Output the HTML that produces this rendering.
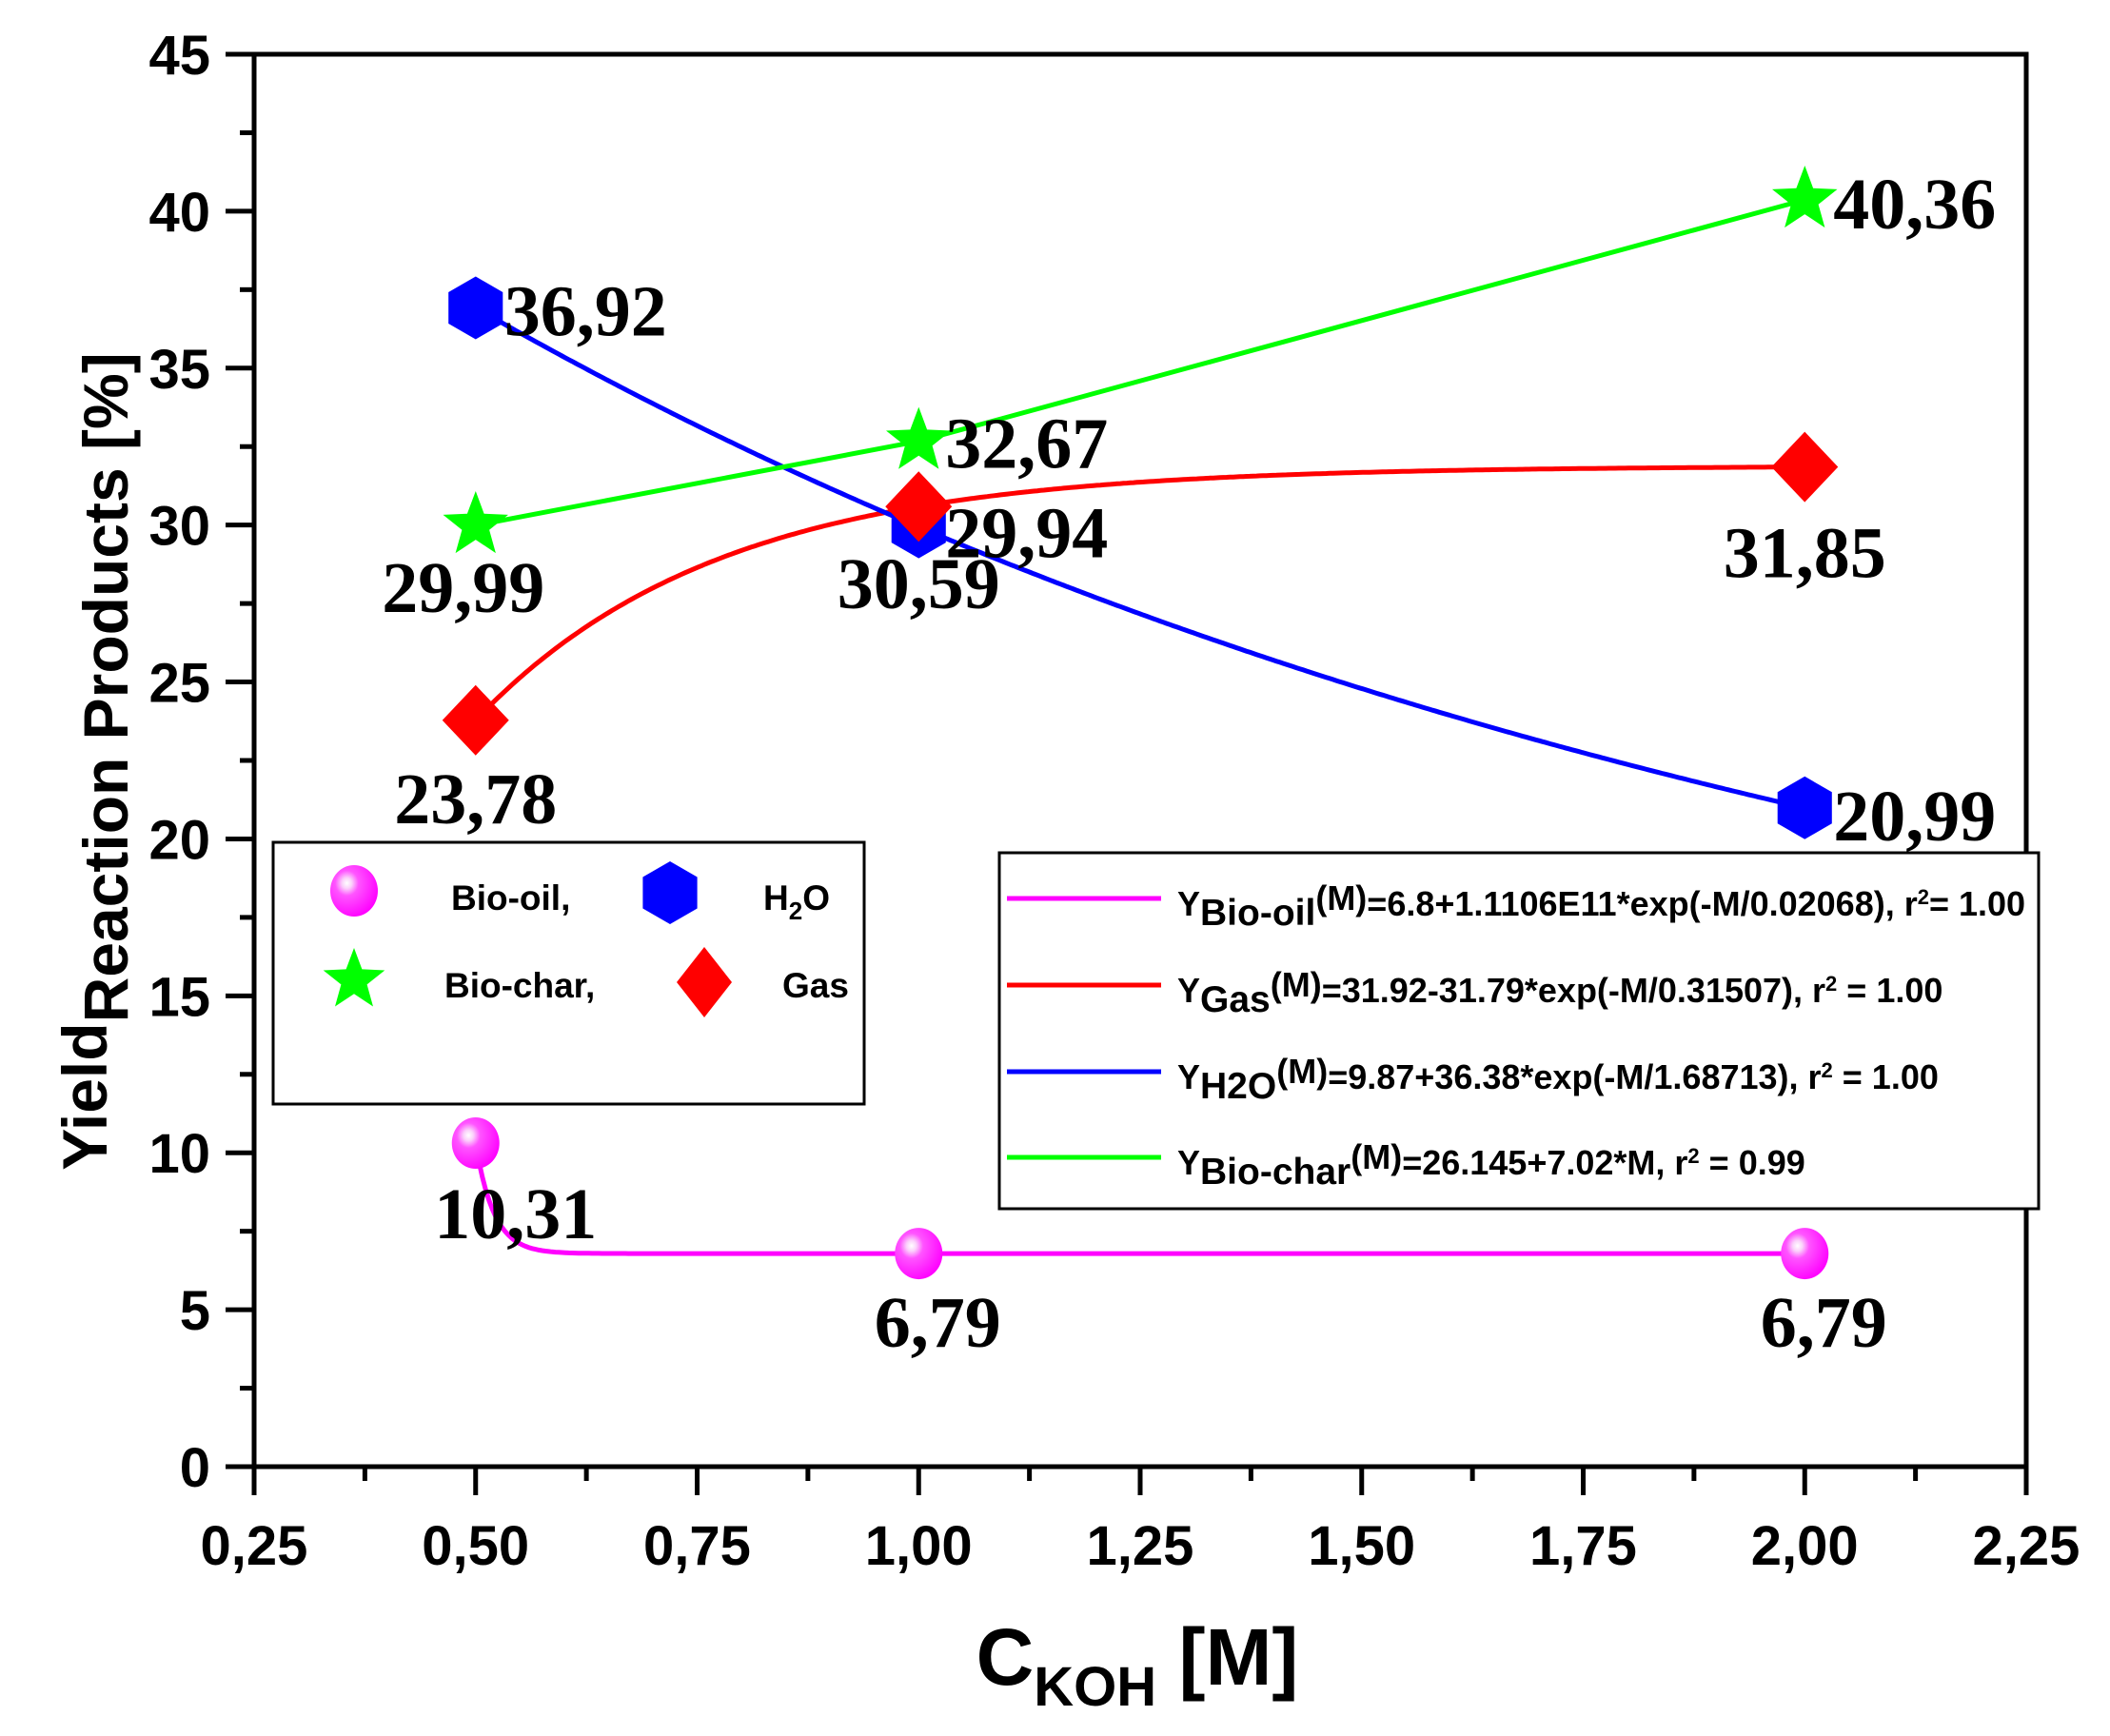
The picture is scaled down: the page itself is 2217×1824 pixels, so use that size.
<!DOCTYPE html>
<html><head><meta charset="utf-8"><style>html,body{margin:0;padding:0;background:#fff}svg{display:block}</style></head>
<body>
<svg id="chart" width="2217" height="1824" viewBox="0 0 2217 1824" xmlns="http://www.w3.org/2000/svg">
<defs>
<radialGradient id="sph" cx="0.35" cy="0.35" r="0.7">
<stop offset="0" stop-color="#fff"/><stop offset="0.15" stop-color="#fbd0fb"/><stop offset="0.35" stop-color="#ff55ff"/><stop offset="1" stop-color="#ff00ff"/>
</radialGradient>
</defs>
<g id="plot"></g>
</svg>
<script>
const xVals = [0.5, 1.0, 2.0];
const bioOil = [10.31, 6.79, 6.79];
const gas = [23.78, 30.59, 31.85];
const water = [36.92, 29.94, 20.99];
const bioChar = [29.99, 32.67, 40.36];
const bioOilLabels = ["10,31", "6,79", "6,79"];
const gasLabels = ["23,78", "30,59", "31,85"];
const waterLabels = ["36,92", "29,94", "20,99"];
const charLabels = ["29,99", "32,67", "40,36"];
const oilTau = 0.02068;
const xTicks = [0.25, 0.5, 0.75, 1.0, 1.25, 1.5, 1.75, 2.0, 2.25];
const xTickLabels = ["0,25","0,50","0,75","1,00","1,25","1,50","1,75","2,00","2,25"];
const yTicks = [0,5,10,15,20,25,30,35,40,45];

const NS = "http://www.w3.org/2000/svg";
const L=267, R=2129, T=57, B=1541;
const X = v => L + (v-0.25)/2.0*(R-L);
const Y = v => B - v/45*(B-T);
const g = document.getElementById('plot');
function el(tag, attrs, parent){const e=document.createElementNS(NS,tag);for(const k in attrs)e.setAttribute(k,attrs[k]);(parent||g).appendChild(e);return e;}

const frame = el('rect',{x:L,y:T,width:R-L,height:B-T,fill:'none',stroke:'#000','stroke-width':5});



yTicks.forEach((v,i)=>{
  const t=el('line',{x1:L-30,x2:L,y1:Y(v),y2:Y(v),stroke:'#000','stroke-width':5});
  
  
  if(i<yTicks.length-1){const m=el('line',{x1:L-15,x2:L,y1:Y(v+2.5),y2:Y(v+2.5),stroke:'#000','stroke-width':5});
    
    }
  const tx=el('text',{x:L-46,y:Y(v)+21,'text-anchor':'end','font-family':'Liberation Sans, sans-serif','font-weight':'bold','font-size':58});
  tx.textContent=v;
  
  
});
xTicks.forEach((v,i)=>{
  const t=el('line',{x1:X(v),x2:X(v),y1:B,y2:B+30,stroke:'#000','stroke-width':5});
  
  
  if(i<xTicks.length-1){const m=el('line',{x1:X(v+0.125),x2:X(v+0.125),y1:B,y2:B+15,stroke:'#000','stroke-width':5});
    
    }
  const tx=el('text',{x:X(v),y:B+103,'text-anchor':'middle','font-family':'Liberation Sans, sans-serif','font-weight':'bold','font-size':58});
  tx.textContent=xTickLabels[i];
  
  
});

const xt=el('text',{x:1195,y:1770,'text-anchor':'middle','font-family':'Liberation Sans, sans-serif','font-weight':'bold','font-size':84});
xt.innerHTML='C<tspan font-size="58" dy="22">KOH</tspan><tspan dy="-22"> [M]</tspan>';


const yt=el('text',{transform:'translate(112,800) rotate(-90)','text-anchor':'middle','font-family':'Liberation Sans, sans-serif','font-weight':'bold','font-size':66});
yt.innerHTML='Yield<tspan dy="22">Reaction Products [%]</tspan>';



function fit3(ys){
  const d1=ys[1]-ys[0], d2=ys[2]-ys[1];
  const r=d2/d1; const u=(-1+Math.sqrt(1+4*r))/2;
  const b=d1/(u*(u-1)); const t=-xVals[0]/Math.log(u);
  const a=ys[0]-b*u; return [a,b,t];
}
function fitPath(p, x0, x1){let d='';for(let i=0;i<=400;i++){const m=x0+(x1-x0)*i/400;const y=p[0]+p[1]*Math.exp(-m/p[2]);d+=(i?'L':'M')+X(m).toFixed(1)+','+Y(y).toFixed(1);}return d;}
const oilA=bioOil[2];
const pOil=[oilA,(bioOil[0]-oilA)/Math.exp(-xVals[0]/oilTau),oilTau];
const cOil=el('path',{d:fitPath(pOil,xVals[0],xVals[2]),fill:'none',stroke:'#ff00ff','stroke-width':5});


const cGas=el('path',{d:fitPath(fit3(gas),xVals[0],xVals[2]),fill:'none',stroke:'#ff0000','stroke-width':5});


const cW=el('path',{d:fitPath(fit3(water),xVals[0],xVals[2]),fill:'none',stroke:'#0000ff','stroke-width':5});


const cC=el('polyline',{points:xVals.map((x,i)=>X(x)+','+Y(bioChar[i])).join(' '),fill:'none',stroke:'#00ff00','stroke-width':5});



function hex(cx,cy,r){const pts=[];for(let k=0;k<6;k++){const a=-Math.PI/2+k*Math.PI/3;pts.push((cx+r*Math.cos(a)).toFixed(1)+','+(cy+r*Math.sin(a)).toFixed(1));}return pts.join(' ');}
function star(cx,cy,r){const pts=[];for(let k=0;k<10;k++){const rr=k%2?r*0.42:r;const a=-Math.PI/2+k*Math.PI/5;pts.push((cx+rr*Math.cos(a)).toFixed(1)+','+(cy+rr*Math.sin(a)).toFixed(1));}return pts.join(' ');}
function diamond(cx,cy,w,h){return `${cx},${cy-h} ${cx+w},${cy} ${cx},${cy+h} ${cx-w},${cy}`;}
function sphere(cx,cy,parent){return el('ellipse',{cx:cx,cy:cy,rx:25,ry:27,fill:'url(#sph)'},parent);}

function label(txt,x,y,anchor){const t=el('text',{x:x,y:y,'text-anchor':anchor,'font-family':'Liberation Serif, serif','font-weight':'bold','font-size':76});t.textContent=txt;return t;}

const waterOff=[[30,29,'start'],[28,32,'start'],[30,34,'start']];
const charOff=[[-13,91,'middle'],[28,28,'start'],[30,30,'start']];
const gasOff=[[0,108,'middle'],[0,107,'middle'],[0,116,'middle']];
const oilOff=[[42,100,'middle'],[20,98,'middle'],[20,98,'middle']];

xVals.forEach((x,i)=>{
  const cx=X(x);
  const w=el('polygon',{points:hex(cx,Y(water[i]),33),fill:'#0000ff'});
  
  
  const d=el('polygon',{points:diamond(cx,Y(gas[i]),35,37),fill:'#ff0000'});
  
  
  const s=el('polygon',{points:star(cx,Y(bioChar[i]),36),fill:'#00ff00'});
  
  
  const o=sphere(cx,Y(bioOil[i]));
  
  
});
xVals.forEach((x,i)=>{
  const cx=X(x);
  let t=label(waterLabels[i],cx+waterOff[i][0],Y(water[i])+waterOff[i][1],waterOff[i][2]);
  
  
  t=label(charLabels[i],cx+charOff[i][0],Y(bioChar[i])+charOff[i][1],charOff[i][2]);
  
  
  t=label(gasLabels[i],cx+gasOff[i][0],Y(gas[i])+gasOff[i][1],gasOff[i][2]);
  
  
  t=label(bioOilLabels[i],cx+oilOff[i][0],Y(bioOil[i])+oilOff[i][1],oilOff[i][2]);
  
  
});

const lg1=el('g',{});


el('rect',{x:287,y:885,width:621,height:275,fill:'#fff',stroke:'#000','stroke-width':3},lg1);
sphere(372,936,lg1);
el('polygon',{points:hex(704,938,33),fill:'#0000ff'},lg1);
el('polygon',{points:star(372,1030,34),fill:'#00ff00'},lg1);
el('polygon',{points:diamond(740,1032,29,37),fill:'#ff0000'},lg1);
function ltxt(html,x,y,parent,name){const t=el('text',{x:x,y:y,'font-family':'Liberation Sans, sans-serif','font-weight':'bold','font-size':37},parent);t.innerHTML=html;return t;}
ltxt('Bio-oil,',474,956,lg1,'legend-bio-oil');
ltxt('H<tspan font-size="26" dy="10">2</tspan><tspan dy="-10">O</tspan>',802,956,lg1,'legend-h2o');
ltxt('Bio-char,',467,1048,lg1,'legend-bio-char');
ltxt('Gas',822,1048,lg1,'legend-gas');

const lg2=el('g',{});


el('rect',{x:1050,y:896,width:1092,height:374,fill:'#fff',stroke:'#000','stroke-width':3},lg2);
const rows=[
 ['#ff00ff','Bio-oil','=6.8+1.1106E11*exp(-M/0.02068), r','= 1.00',944],
 ['#ff0000','Gas','=31.92-31.79*exp(-M/0.31507), r',' = 1.00',1035],
 ['#0000ff','H2O','=9.87+36.38*exp(-M/1.68713), r',' = 1.00',1126],
 ['#00ff00','Bio-char','=26.145+7.02*M, r',' = 0.99',1216]];
rows.forEach(r=>{
  el('line',{x1:1058,x2:1220,y1:r[4],y2:r[4],stroke:r[0],'stroke-width':5},lg2);
  const t=el('text',{x:1237,y:r[4]+18,'font-family':'Liberation Sans, sans-serif','font-weight':'bold','font-size':36},lg2);
  t.innerHTML='Y<tspan dy="10" font-size="39">'+r[1]+'</tspan><tspan dy="-16">(M)</tspan><tspan dy="6">'+r[2]+'</tspan><tspan dy="-12" font-size="22">2</tspan><tspan dy="12">'+r[3]+'</tspan>';
  
  
});
</script>
</body></html>
